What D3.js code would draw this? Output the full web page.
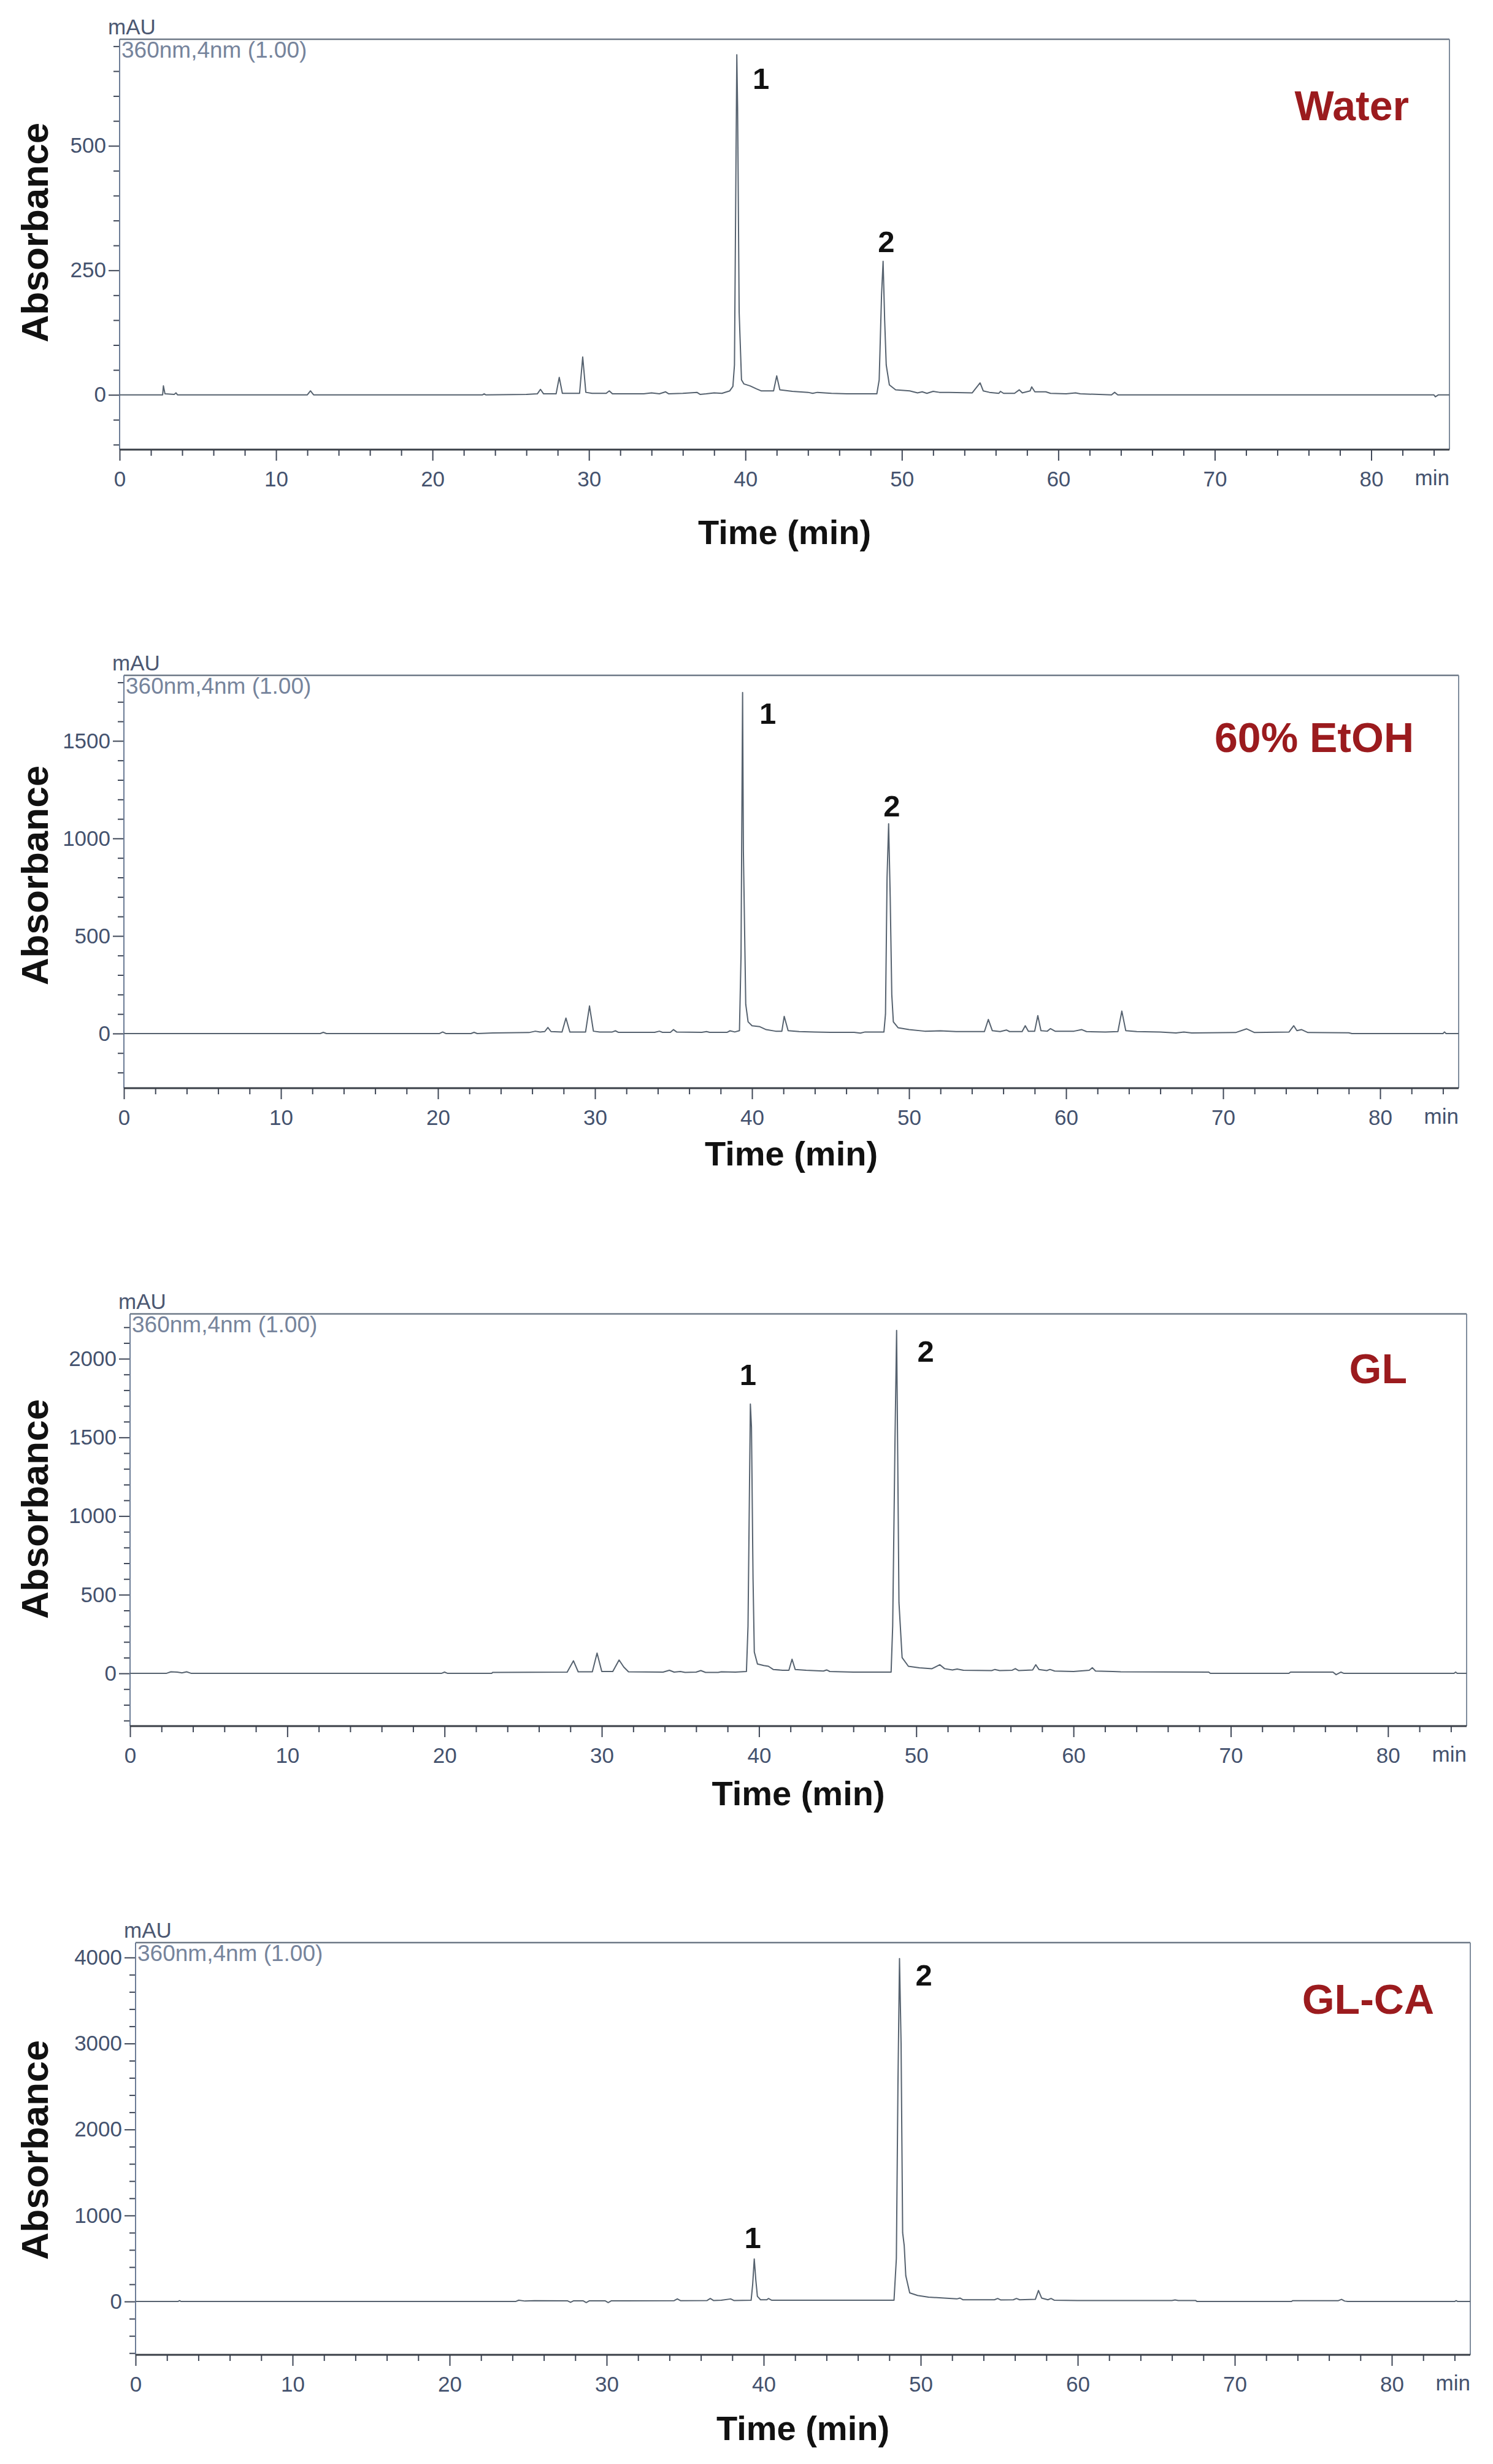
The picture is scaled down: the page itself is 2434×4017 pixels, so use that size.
<!DOCTYPE html>
<html>
<head>
<meta charset="utf-8">
<script src="https://cdn.jsdelivr.net/npm/d3@7"></script>
<style>
  html, body { margin: 0; padding: 0; background: #ffffff; }
  svg { display: block; }
</style>
</head>
<body>
<svg id="chart" width="2434" height="4017"></svg>
<script>
// ---------------- DATA ----------------
const panelNames = ["Water", "60% EtOH", "GL", "GL-CA"];
const detectorLabel = "360nm,4nm (1.00)";
const yUnit = "mAU";
const xUnit = "min";
const xTitle = "Time (min)";
const yTitle = "Absorbance";

const xMajorTicks = [0, 10, 20, 30, 40, 50, 60, 70, 80];
const xMinorTicks = [2,4,6,8,12,14,16,18,22,24,26,28,32,34,36,38,42,44,46,48,52,54,56,58,62,64,66,68,72,74,76,78,82,84];

const yMajorWater = [0, 250, 500];
const yMinorWater = [-100,-50,50,100,150,200,300,350,400,450,550,600,650,700];
const yMajorEtOH = [0, 500, 1000, 1500];
const yMinorEtOH = [-200,-100,100,200,300,400,600,700,800,900,1100,1200,1300,1400,1600,1700,1800];
const yMajorGL = [0, 500, 1000, 1500, 2000];
const yMinorGL = [-300,-200,-100,100,200,300,400,600,700,800,900,1100,1200,1300,1400,1600,1700,1800,1900,2100,2200];
const yMajorGLCA = [0, 1000, 2000, 3000, 4000];
const yMinorGLCA = [-600,-400,-200,200,400,600,800,1200,1400,1600,1800,2200,2400,2600,2800,3200,3400,3600,3800];

// chromatogram traces: [time (min), absorbance (mAU)]
const waterTrace = [[0,0],[2.75,0],[2.8,18],[2.9,2],[3.5,1],[3.6,4],[3.7,0],[12.0,0],[12.2,8],[12.4,0],[23.2,0],[23.3,2],[23.4,0],
  [26.0,1],[26.7,2],[26.9,11],[27.1,2],[27.9,2],[28.1,35],[28.3,3],[29.4,3],[29.6,76],[29.8,5],[30.2,3],[31.1,3],[31.3,8],[31.5,2],
  [33.5,2],[34.0,4],[34.5,2],[34.9,6],[35.1,2],[36.0,3],[36.9,5],[37.1,1],[37.5,2],[38.0,4],[38.5,3],[39.0,8],[39.2,17],[39.3,60],
  [39.45,683],[39.5,578],[39.6,166],[39.75,30],[39.9,22],[40.3,18],[40.7,12],[41.0,8],[41.8,8],[42.0,38],[42.2,10],[43.0,7],[44.0,5],
  [44.3,3],[44.6,5],[45.5,3],[46.5,2],[48.4,2],[48.55,30],[48.7,200],[48.8,268],[48.9,150],[49.0,60],[49.2,20],[49.6,10],[50.5,8],
  [51.0,4],[51.3,6],[51.6,3],[52.0,7],[52.4,5],[53.0,5],[54.5,4],[55.0,24],[55.2,8],[55.6,5],[56.2,3],[56.3,7],[56.5,3],[57.2,3],
  [57.5,10],[57.7,4],[58.2,8],[58.3,16],[58.5,6],[59.2,6],[59.5,3],[60.5,2],[61.1,4],[61.4,2],[63.4,0],[63.6,5],[63.8,0],[84.0,0],
  [84.1,-4],[84.3,0],[85,0]];

const etohTrace = [[0,0],[12.5,0],[12.7,6],[12.9,0],[20.1,0],[20.3,8],[20.5,0],[22.1,0],[22.3,6],[22.5,0],[23.5,3],[25.8,5],[26.2,12],
  [26.5,8],[26.8,10],[27.0,31],[27.2,10],[27.9,8],[28.15,79],[28.4,8],[29.4,8],[29.65,141],[29.9,12],[30.3,8],[31.1,8],[31.3,14],
  [31.5,6],[33.8,6],[34.1,12],[34.3,6],[34.8,6],[35.0,20],[35.2,8],[36.8,6],[37.1,10],[37.3,6],[38.4,6],[38.6,14],[38.9,8],[39.2,15],
  [39.3,400],[39.4,1748],[39.45,937],[39.6,150],[39.75,60],[40.0,40],[40.5,35],[40.9,20],[41.5,12],[41.9,12],[42.05,88],[42.3,15],
  [43.0,10],[44.0,8],[45.0,6],[46.5,6],[46.9,2],[47.2,8],[48.4,8],[48.5,100],[48.6,800],[48.7,1075],[48.8,700],[48.9,200],[49.0,60],
  [49.3,30],[50.0,20],[51.0,12],[52.0,14],[53.0,10],[54.8,10],[55.05,72],[55.3,15],[55.8,10],[56.2,18],[56.4,10],[57.2,10],[57.4,40],
  [57.6,12],[58.0,12],[58.2,92],[58.4,15],[58.8,12],[59.0,25],[59.3,12],[60.5,12],[61.0,20],[61.3,10],[62.5,8],[63.3,10],[63.55,115],
  [63.8,15],[64.5,10],[66.0,8],[67.0,3],[67.5,8],[68.0,3],[70.8,5],[71.5,24],[72.0,5],[74.2,8],[74.5,40],[74.7,15],[75.0,20],[75.4,5],
  [78.0,4],[78.2,0],[84.0,0],[84.1,8],[84.2,0],[85,0]];

const glTrace = [[0,0],[2.3,0],[2.6,10],[3.0,8],[3.3,3],[3.6,10],[3.9,0],[19.8,0],[20.0,8],[20.2,0],[23.0,0],[23.05,6],[27.8,8],
  [28.2,80],[28.5,10],[29.4,10],[29.7,129],[30.0,12],[30.7,12],[31.1,85],[31.4,40],[31.7,10],[33.9,8],[34.3,20],[34.6,8],[35.0,12],
  [35.3,6],[36.0,8],[36.3,18],[36.6,6],[37.4,6],[37.6,10],[38.5,8],[39.2,12],[39.3,300],[39.45,1712],[39.52,1565],[39.62,600],
  [39.7,136],[39.9,60],[40.3,50],[40.6,45],[40.9,25],[41.5,20],[41.9,20],[42.1,90],[42.3,25],[43.0,20],[44.1,15],[44.3,22],[44.5,12],
  [46.0,8],[48.4,8],[48.5,300],[48.65,1500],[48.75,2180],[48.82,1385],[48.9,450],[49.1,100],[49.5,45],[50.2,35],[51.0,30],[51.5,55],
  [51.8,30],[52.3,22],[52.6,28],[53.0,20],[54.8,18],[55.0,25],[55.3,18],[56.1,20],[56.3,30],[56.5,18],[57.4,22],[57.6,55],[57.8,25],
  [58.3,18],[58.5,25],[58.8,15],[60.0,12],[61.0,20],[61.2,36],[61.4,15],[62.5,12],[63.0,10],[68.6,8],[68.7,0],[73.7,0],[73.8,8],
  [76.5,8],[76.7,-8],[77.0,8],[77.2,0],[84.2,0],[84.3,8],[84.4,0],[85,0]];

const glcaTrace = [[0,0],[2.7,0],[2.8,10],[2.9,0],[24.2,0],[24.4,15],[24.8,5],[25.4,10],[27.5,8],[27.7,-10],[27.9,8],[28.5,8],
  [28.7,-12],[28.9,8],[29.9,8],[30.1,-12],[30.3,8],[34.3,10],[34.5,30],[34.7,10],[36.4,12],[36.6,35],[36.8,12],[37.3,14],[37.9,30],
  [38.1,12],[39.2,14],[39.3,200],[39.4,495],[39.5,250],[39.6,60],[39.8,20],[40.2,20],[40.3,35],[40.5,15],[48.3,15],[48.45,500],
  [48.55,2500],[48.65,3987],[48.75,3000],[48.85,800],[48.95,650],[49.05,300],[49.3,100],[49.8,70],[50.5,50],[51.5,40],[52.3,30],
  [52.5,40],[52.7,20],[54.7,20],[54.9,35],[55.1,18],[55.9,20],[56.1,35],[56.3,20],[57.3,25],[57.5,128],[57.7,40],[58.1,20],[58.3,35],
  [58.5,15],[60.0,12],[66.0,12],[66.2,18],[66.4,12],[67.5,12],[67.6,0],[73.6,0],[73.7,10],[76.6,10],[76.8,25],[77.0,5],[77.2,0],
  [84.0,0],[84.1,10],[84.2,0],[85,0]];

// peak annotations: [label, time, mAU] (label anchor in data coordinates)
const waterPeakLabels = [["1", 41.0, 614], ["2", 49.0, 287]];
const etohPeakLabels  = [["1", 41.0, 1588], ["2", 48.9, 1113]];
const glPeakLabels    = [["1", 39.3, 1833], ["2", 50.6, 1981]];
const glcaPeakLabels  = [["1", 39.3, 620], ["2", 50.2, 3673]];

const xDomain = [0, 85];
const yDomains = [[-110, 714], [-280, 1836], [-335, 2285], [-620, 4173]];

// ---------------- LAYOUT ----------------
const layout = [
  {left:195, right:2363, top:64,   bottom:733,  titleX:2297, titleY:196,  xTitleY:887,  yTitleY:379},
  {left:202, right:2378, top:1101, bottom:1774, titleX:2305, titleY:1226, xTitleY:1900, yTitleY:1427},
  {left:212, right:2391, top:2142, bottom:2814, titleX:2294, titleY:2255, xTitleY:2943, yTitleY:2460},
  {left:221, right:2397, top:3167, bottom:3839, titleX:2338, titleY:3283, xTitleY:3978, yTitleY:3505}
];

const traces = [waterTrace, etohTrace, glTrace, glcaTrace];
const peakLabels = [waterPeakLabels, etohPeakLabels, glPeakLabels, glcaPeakLabels];
const yMajors = [yMajorWater, yMajorEtOH, yMajorGL, yMajorGLCA];
const yMinors = [yMinorWater, yMinorEtOH, yMinorGL, yMinorGLCA];

const FONT = "'Liberation Sans', Arial, Helvetica, sans-serif";
const tickColor = "#3e4656";
const labelColor = "#44526e";

const svg = d3.select("#chart");
svg.append("rect").attr("width", 2434).attr("height", 4017).attr("fill", "#ffffff");

layout.forEach((L, i) => {
  const g = svg.append("g");
  const x = d3.scaleLinear().domain(xDomain).range([L.left, L.right]);
  const y = d3.scaleLinear().domain(yDomains[i]).range([L.bottom, L.top]);

  // minor y ticks
  const yMinorAxis = d3.axisLeft(y).tickValues(yMinors[i]).tickSize(10).tickFormat("");
  g.append("g").attr("transform", `translate(${L.left},0)`).call(yMinorAxis)
    .call(s => s.select(".domain").remove())
    .call(s => s.selectAll("line").attr("stroke", tickColor).attr("stroke-width", 2));
  // major y ticks
  const yMajorAxis = d3.axisLeft(y).tickValues(yMajors[i]).tickSize(18).tickPadding(4).tickFormat(d3.format("d"));
  g.append("g").attr("transform", `translate(${L.left},0)`).call(yMajorAxis)
    .call(s => s.select(".domain").remove())
    .call(s => s.selectAll("line").attr("stroke", tickColor).attr("stroke-width", 2))
    .call(s => s.selectAll("text").attr("font-family", FONT).attr("font-size", 35).attr("fill", labelColor));

  // minor x ticks
  const xMinorAxis = d3.axisBottom(x).tickValues(xMinorTicks).tickSize(10).tickFormat("");
  g.append("g").attr("transform", `translate(0,${L.bottom})`).call(xMinorAxis)
    .call(s => s.select(".domain").remove())
    .call(s => s.selectAll("line").attr("stroke", tickColor).attr("stroke-width", 2));
  // major x ticks
  const xMajorAxis = d3.axisBottom(x).tickValues(xMajorTicks).tickSize(18).tickPadding(17).tickFormat(d3.format("d"));
  g.append("g").attr("transform", `translate(0,${L.bottom})`).call(xMajorAxis)
    .call(s => s.select(".domain").remove())
    .call(s => s.selectAll("line").attr("stroke", tickColor).attr("stroke-width", 2))
    .call(s => s.selectAll("text").attr("font-family", FONT).attr("font-size", 35).attr("fill", labelColor));

  // "min" unit label
  g.append("text").attr("x", L.right).attr("y", L.bottom + 58)
    .attr("text-anchor", "end").attr("font-family", FONT).attr("font-size", 35).attr("fill", labelColor)
    .text(xUnit);

  // frame
  g.append("line").attr("x1", L.left).attr("x2", L.right).attr("y1", L.top).attr("y2", L.top)
    .attr("stroke", "#6d7886").attr("stroke-width", 2.5);
  g.append("line").attr("x1", L.right).attr("x2", L.right).attr("y1", L.top).attr("y2", L.bottom)
    .attr("stroke", "#7f8c9c").attr("stroke-width", 2);
  g.append("line").attr("x1", L.left).attr("x2", L.left).attr("y1", L.top).attr("y2", L.bottom)
    .attr("stroke", "#6c7c96").attr("stroke-width", 2);
  g.append("line").attr("x1", L.left).attr("x2", L.right).attr("y1", L.bottom).attr("y2", L.bottom)
    .attr("stroke", "#3a3f47").attr("stroke-width", 3);

  // unit + detector labels
  g.append("text").attr("x", L.left - 19).attr("y", L.top - 8)
    .attr("font-family", FONT).attr("font-size", 35).attr("fill", "#4c5872").text(yUnit);
  g.append("text").attr("x", L.left + 3).attr("y", L.top + 30)
    .attr("font-family", FONT).attr("font-size", 37).attr("fill", "#76849c").text(detectorLabel);

  // trace
  const line = d3.line().x(d => x(d[0])).y(d => y(d[1]));
  g.append("path").datum(traces[i]).attr("d", line)
    .attr("fill", "none").attr("stroke", "#56626f").attr("stroke-width", 2)
    .attr("stroke-linejoin", "round");

  // peak labels
  g.selectAll("text.peak").data(peakLabels[i]).enter().append("text")
    .attr("class", "peak")
    .attr("x", d => x(d[1])).attr("y", d => y(d[2]))
    .attr("text-anchor", "middle").attr("font-family", FONT).attr("font-weight", "bold")
    .attr("font-size", 49).attr("fill", "#111111").text(d => d[0]);

  // panel title
  g.append("text").attr("x", L.titleX).attr("y", L.titleY)
    .attr("text-anchor", "end").attr("font-family", FONT).attr("font-weight", "bold")
    .attr("font-size", 68).attr("fill", "#9b1b1e").text(panelNames[i]);

  // axis titles
  g.append("text").attr("x", (L.left + L.right) / 2).attr("y", L.xTitleY)
    .attr("text-anchor", "middle").attr("font-family", FONT).attr("font-weight", "bold")
    .attr("font-size", 56).attr("fill", "#111111").text(xTitle);
  g.append("text").attr("transform", `translate(78,${L.yTitleY}) rotate(-90)`)
    .attr("text-anchor", "middle").attr("font-family", FONT).attr("font-weight", "bold")
    .attr("font-size", 62).attr("fill", "#111111").text(yTitle);
});
</script>
</body>
</html>
